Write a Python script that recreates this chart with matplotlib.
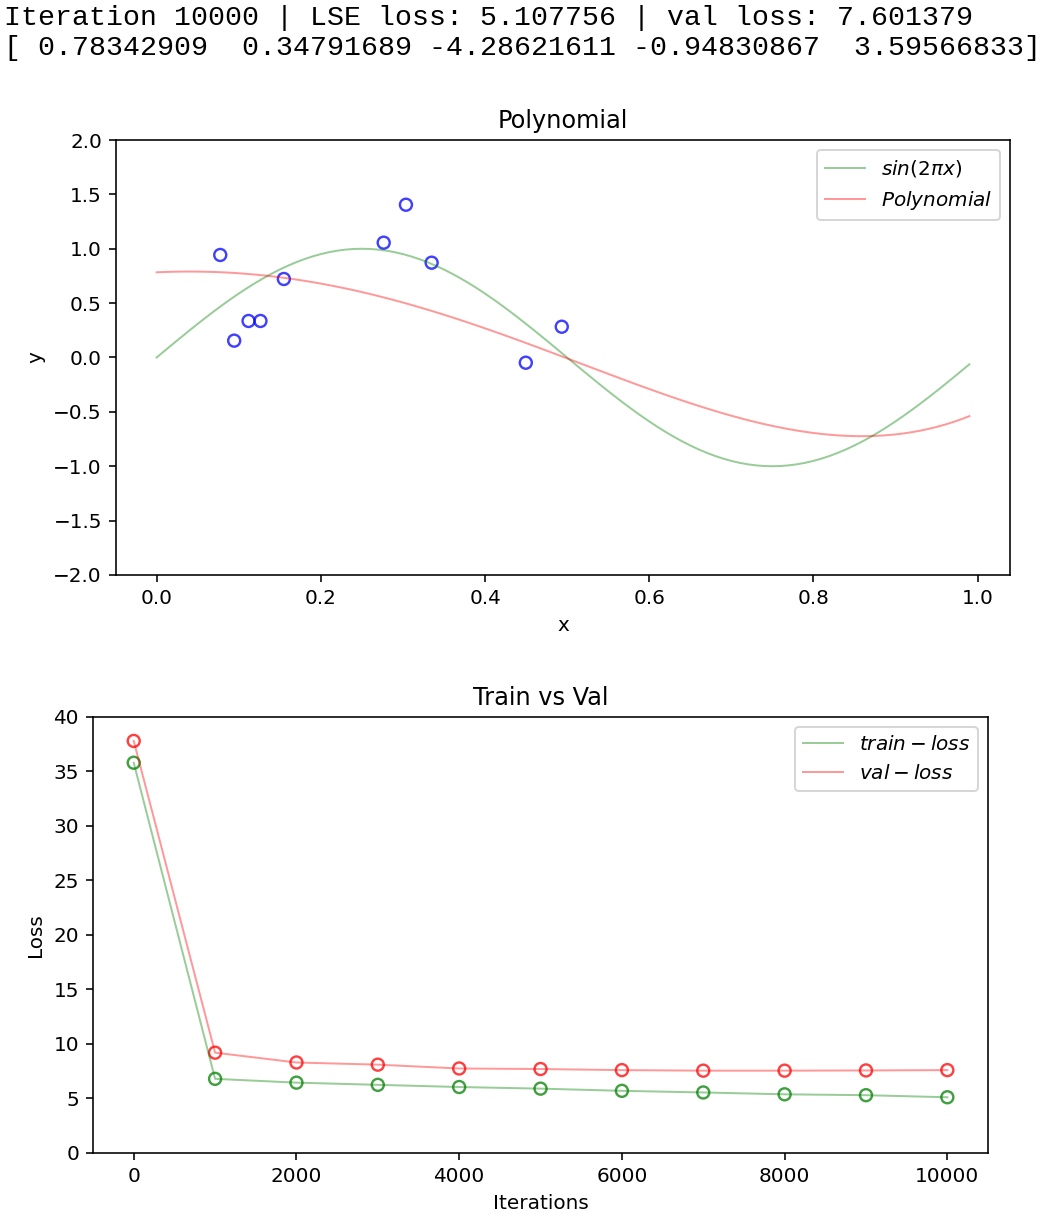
import numpy as np
import matplotlib
matplotlib.use('Agg')
import matplotlib.pyplot as plt

# printed output above the plots
iteration = 10000
lse_loss = 5.107756
val_loss_last = 7.601379
weights = np.array([0.78342909, 0.34791689, -4.28621611, -0.94830867, 3.59566833])

# training samples
x_train = [0.0775, 0.0945, 0.112, 0.1265, 0.155, 0.2766, 0.3037, 0.335, 0.4497, 0.4935]
y_train = [0.943, 0.155, 0.336, 0.336, 0.722, 1.056, 1.405, 0.872, -0.048, 0.283]

# loss history
iters = [0, 1000, 2000, 3000, 4000, 5000, 6000, 7000, 8000, 9000, 10000]
train_loss = [35.8, 6.8, 6.45, 6.25, 6.05, 5.9, 5.7, 5.55, 5.38, 5.3, 5.11]
val_loss = [37.8, 9.2, 8.3, 8.1, 7.75, 7.7, 7.6, 7.55, 7.55, 7.57, 7.6]

x = np.arange(0, 1, 0.01)
y_sin = np.sin(2 * np.pi * x)
y_poly = sum(w * x**i for i, w in enumerate(weights))

fig = plt.figure(figsize=(1042 / 144, 1222 / 144), dpi=144)

txt = 'Iteration %d | LSE loss: %f | val loss: %f\n%s' % (
    iteration, lse_loss, val_loss_last,
    np.array2string(weights, precision=8, separator=' ', max_line_width=200))
fig.text(0.004, 0.996, txt, family='Liberation Mono', fontsize=14.1,
         va='top', ha='left', linespacing=1.2)

ax1 = fig.add_axes([0.1113, 0.5295, 0.858, 0.3559])
ax1.plot(x, y_sin, color='g', alpha=0.4, lw=1, label=r'$sin(2\pi x)$')
ax1.plot(x, y_poly, color='r', alpha=0.4, lw=1, label=r'$Polynomial$')
ax1.scatter(x_train, y_train, facecolors='none', edgecolors='b', alpha=0.75, s=36, lw=1.2)
ax1.set_ylim(-2, 2)
ax1.set_title('Polynomial')
ax1.set_xlabel('x')
ax1.set_ylabel('y')
ax1.legend(loc='upper right')

ax2 = fig.add_axes([0.0893, 0.0565, 0.8589, 0.3568])
ax2.plot(iters, train_loss, color='g', alpha=0.4, lw=1, label=r'$train-loss$')
ax2.plot(iters, val_loss, color='r', alpha=0.4, lw=1, label=r'$val-loss$')
ax2.scatter(iters, train_loss, facecolors='none', edgecolors='g', alpha=0.75, s=36, lw=1.2)
ax2.scatter(iters, val_loss, facecolors='none', edgecolors='r', alpha=0.75, s=36, lw=1.2)
ax2.set_ylim(0, 40)
ax2.set_title('Train vs Val')
ax2.set_xlabel('Iterations')
ax2.set_ylabel('Loss')
ax2.legend(loc='upper right')

fig.savefig('out.png', dpi=144)
